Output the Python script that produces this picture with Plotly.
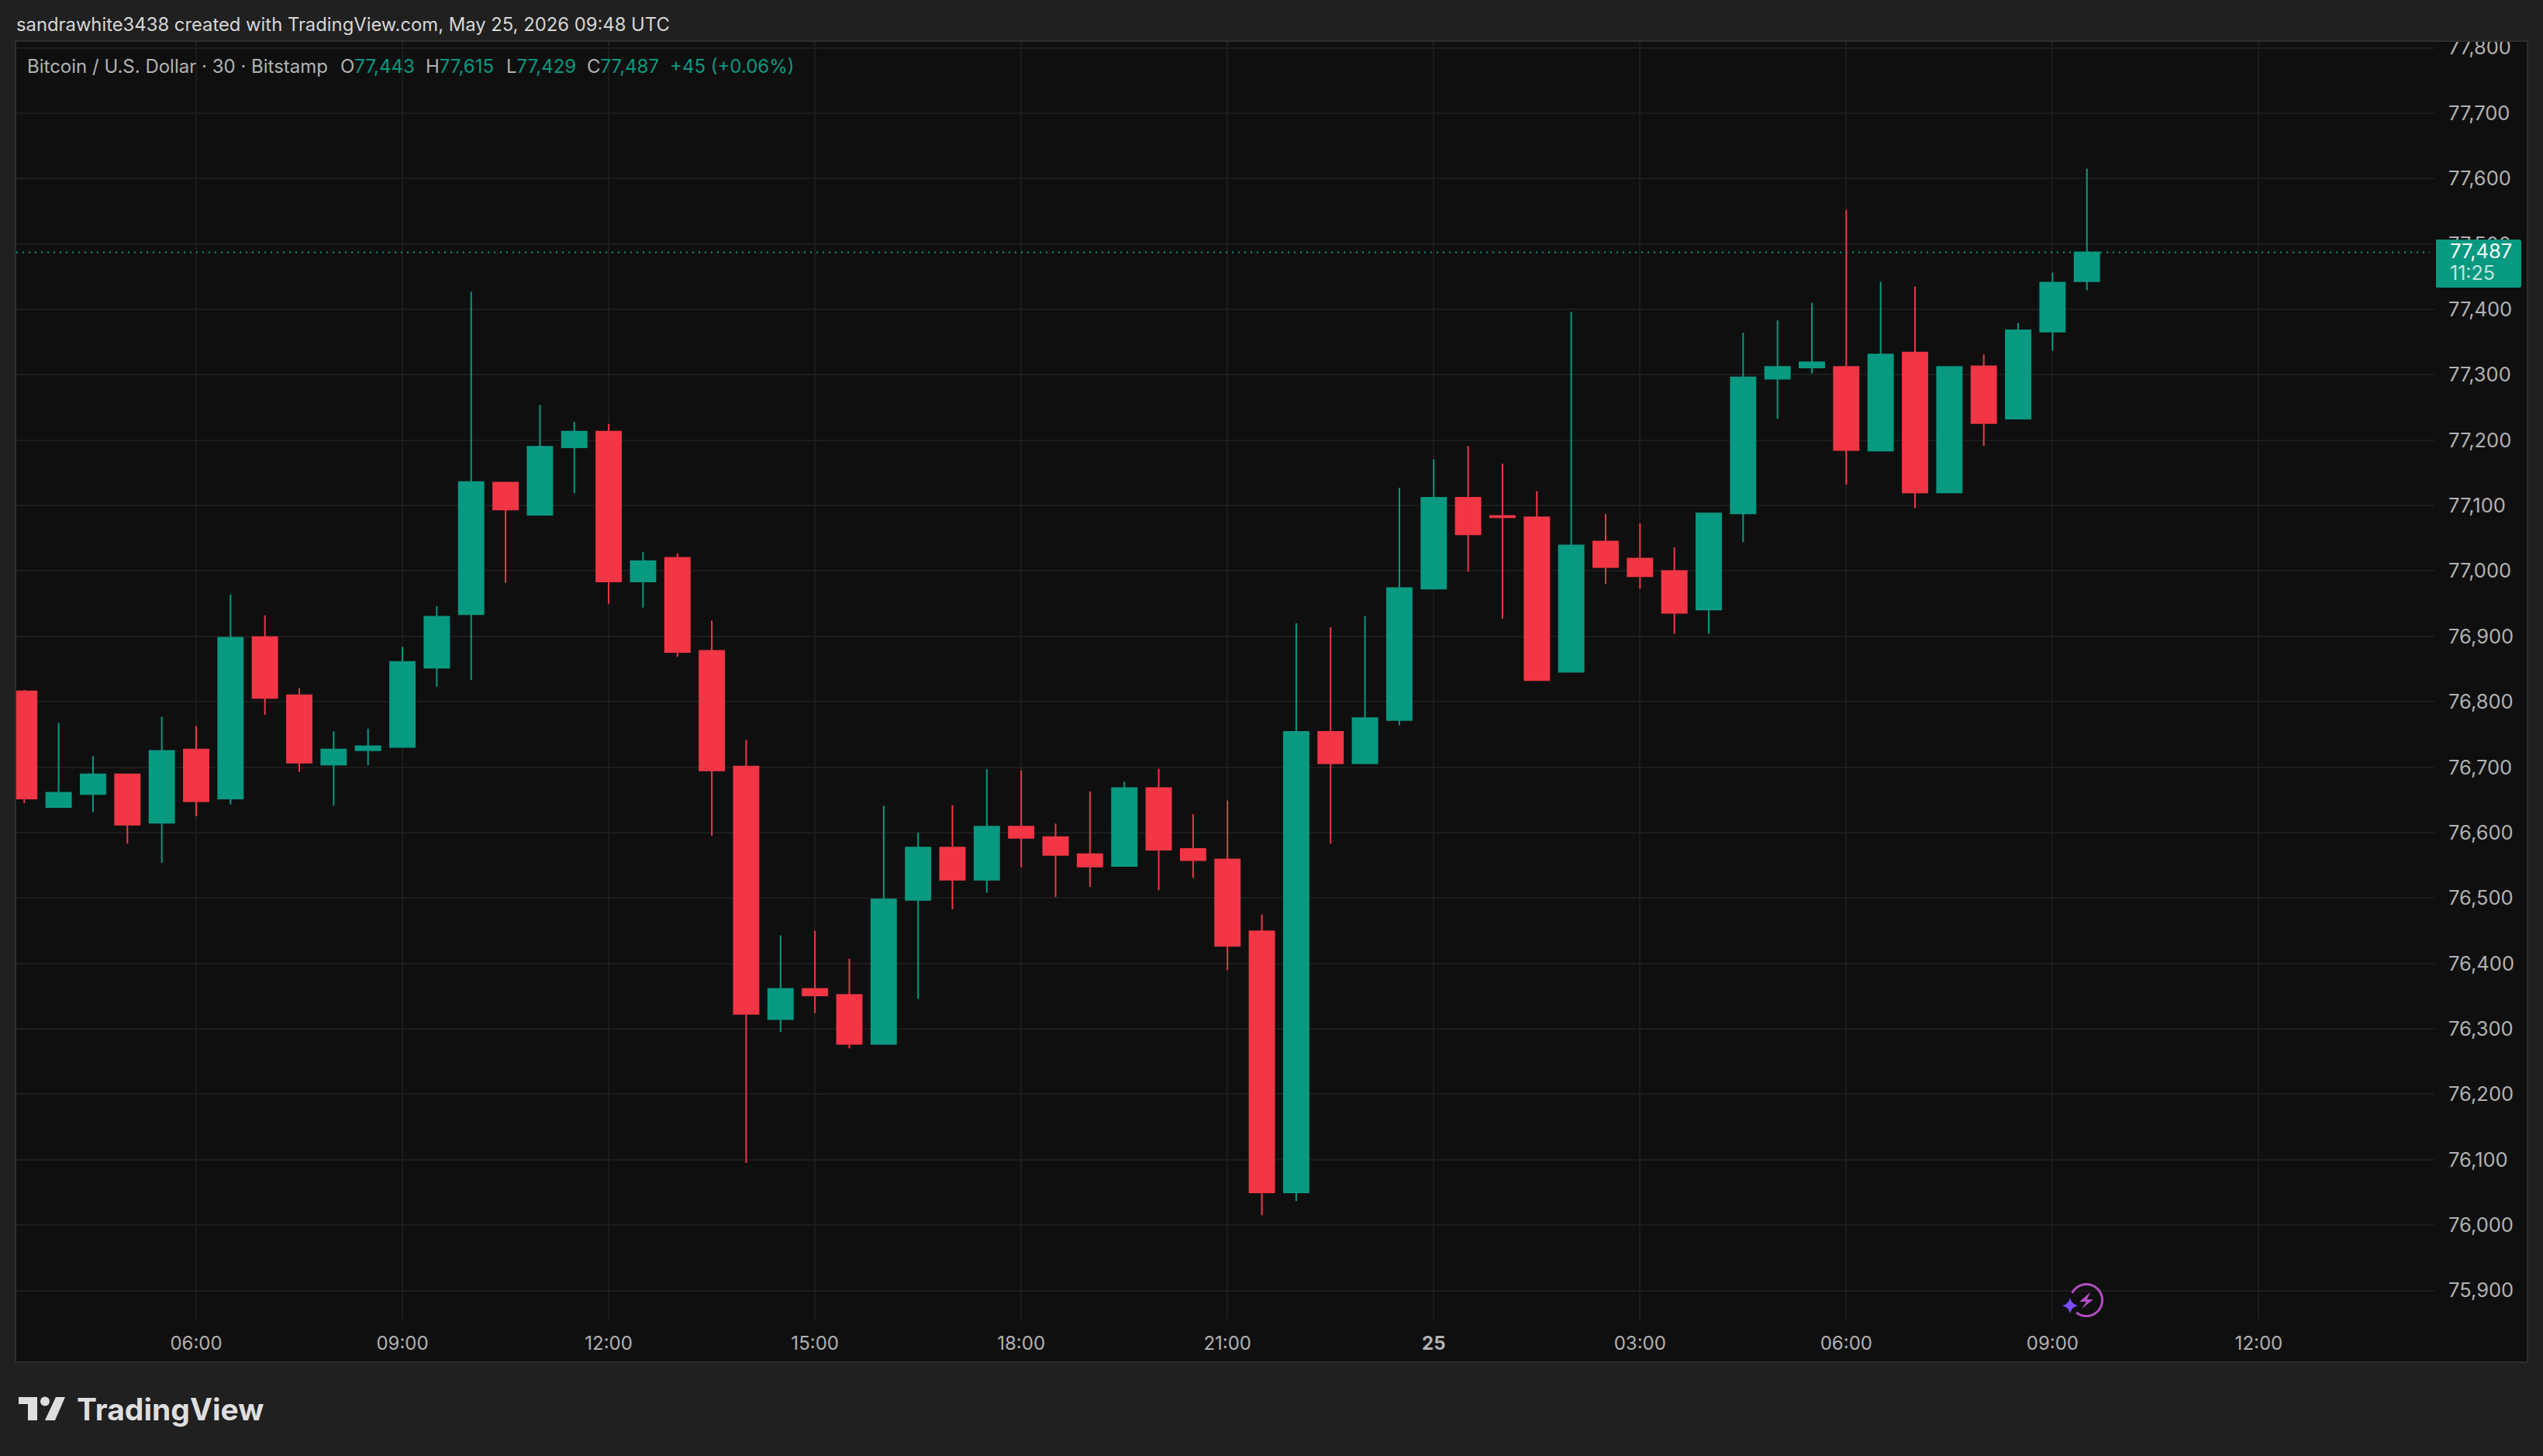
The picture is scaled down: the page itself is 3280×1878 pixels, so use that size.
import math
import pandas as pd
import plotly.graph_objects as go

# ---------- data ----------
bar_start = "2026-05-24 03:30"
opens = [76816, 76639, 76659, 76689, 76615, 76727, 76652, 76899, 76810, 76704, 76726, 76731,
         76852, 76934, 77135, 77086, 77189, 77213, 76984, 77020, 76878, 76701, 76315, 76361,
         76352, 76277, 76497, 76577, 76528, 76609, 76593, 76567, 76549, 76668, 76575, 76559,
         76449, 76050, 76754, 76706, 76772, 76973, 77112, 77084, 77082, 76846, 77045, 77019,
         77000, 76941, 77088, 77294, 77311, 77312, 77184, 77334, 77120, 77313, 77233, 77366, 77443]
highs = [76818, 76768, 76717, 76689, 76777, 76763, 76964, 76932, 76821, 76755, 76759, 76884,
         76946, 77427, 77135, 77254, 77228, 77225, 77029, 77027, 76924, 76742, 76443, 76450,
         76407, 76641, 76600, 76642, 76697, 76695, 76614, 76663, 76678, 76697, 76628, 76649,
         76475, 76920, 76914, 76931, 77127, 77171, 77191, 77164, 77122, 77396, 77087, 77073,
         77036, 77088, 77364, 77383, 77410, 77552, 77442, 77435, 77312, 77331, 77379, 77456, 77615]
lows = [76645, 76638, 76631, 76583, 76554, 76625, 76643, 76780, 76693, 76641, 76703, 76731,
        76823, 76833, 76982, 77086, 77119, 76950, 76944, 76869, 76595, 76095, 76295, 76324,
        76270, 76277, 76346, 76483, 76508, 76547, 76502, 76517, 76549, 76512, 76531, 76390,
        76015, 76037, 76583, 76706, 76764, 76973, 76999, 76927, 76833, 76846, 76980, 76973,
        76904, 76904, 77044, 77233, 77302, 77132, 77184, 77096, 77120, 77191, 77233, 77337, 77429]
closes = [76652, 76661, 76689, 76612, 76725, 76648, 76898, 76806, 76707, 76727, 76732, 76861,
          76930, 77136, 77094, 77190, 77213, 76984, 77015, 76876, 76695, 76323, 76361, 76351,
          76277, 76498, 76577, 76528, 76609, 76592, 76566, 76548, 76668, 76574, 76558, 76427,
          76050, 76754, 76706, 76775, 76974, 77112, 77056, 77082, 76833, 77039, 77006, 76992,
          76936, 77088, 77296, 77312, 77319, 77185, 77331, 77120, 77312, 77226, 77368, 77441, 77487]

price_ticks = [75900, 76000, 76100, 76200, 76300, 76400, 76500, 76600, 76700, 76800, 76900,
               77000, 77100, 77200, 77300, 77400, 77500, 77600, 77700, 77800]
time_ticks = ["2026-05-24 06:00", "2026-05-24 09:00", "2026-05-24 12:00", "2026-05-24 15:00",
              "2026-05-24 18:00", "2026-05-24 21:00", "2026-05-25 00:00", "2026-05-25 03:00",
              "2026-05-25 06:00", "2026-05-25 09:00", "2026-05-25 12:00"]
time_labels = ["06:00", "09:00", "12:00", "15:00", "18:00", "21:00", "<b>25</b>",
               "03:00", "06:00", "09:00", "12:00"]

header_text = "sandrawhite3438 created with TradingView.com, May 25, 2026 09:48 UTC"
symbol_text = "Bitcoin / U.S. Dollar · 30 · Bitstamp"
ohlc_parts = [("O", "77,443"), ("H", "77,615"), ("L", "77,429"), ("C", "77,487")]
change_text = "+45 (+0.06%)"
last_price_label = "77,487"
countdown_label = "11:25"

# ---------- style and layout ----------
W, H = 3280, 1878
L, R, T, B = 21, 3140, 54, 1702
UP, DOWN = "#089981", "#F23645"
PAGE, PANE, GRID, BORDER = "#202020", "#0F0F0F", "#1C1C1C", "#2E2E2E"
FONT = "Inter"


def px(x):
    return (x - L) / (R - L)


def py(y):
    return (B - y) / (B - T)


def poly(points, **kw):
    d = "M" + " L".join(f"{px(x):.5f},{py(y):.5f}" for x, y in points) + " Z"
    return dict(type="path", xref="paper", yref="paper", path=d, layer="above", **kw)


def note(x, y, text, size, color, anchor="left", family=FONT):
    return dict(xref="paper", yref="paper", x=px(x), y=py(y), text=text, showarrow=False,
                xanchor=anchor, yanchor="middle", xshift=0, align="left",
                font=dict(family=family, size=size, color=color))


times = pd.date_range(bar_start, periods=len(opens), freq="30min")

fig = go.Figure(go.Candlestick(
    x=times, open=opens, high=highs, low=lows, close=closes,
    increasing=dict(line=dict(color=UP, width=2), fillcolor=UP),
    decreasing=dict(line=dict(color=DOWN, width=2), fillcolor=DOWN),
    whiskerwidth=0, hoverinfo="skip", showlegend=False,
))

shapes = [
    # pane frame and page strip that trims the top label
    dict(type="rect", xref="paper", yref="paper", x0=px(0), x1=px(W), y0=py(0), y1=py(53),
         fillcolor=PAGE, line_width=0, layer="above"),
    dict(type="rect", xref="paper", yref="paper", x0=px(20), x1=px(3260), y0=py(53), y1=py(1757),
         fillcolor="rgba(0,0,0,0)", line=dict(color=BORDER, width=2), layer="above"),
    # last price line and tag
    dict(type="line", xref="paper", yref="y", x0=px(21), x1=px(3134), y0=closes[-1], y1=closes[-1],
         line=dict(color=UP, width=2, dash="2px,6px"), layer="above"),
    dict(type="path", xref="paper", yref="paper", fillcolor=UP, line_width=0, layer="above",
         path=(f"M{px(3142)},{py(309)} L{px(3249)},{py(309)} Q{px(3252)},{py(309)} {px(3252)},{py(312)} "
               f"L{px(3252)},{py(368)} Q{px(3252)},{py(371)} {px(3249)},{py(371)} L{px(3142)},{py(371)} Z")),
]

# TradingView mark
logo_color = "#DEDEDE"
shapes.append(poly([(24, 1802), (48, 1802), (48, 1832), (36, 1832), (36, 1811), (24, 1811)],
                   fillcolor=logo_color, line_width=0))
shapes.append(dict(type="circle", xref="paper", yref="paper", layer="above", fillcolor=logo_color, line_width=0,
                   x0=px(52), x1=px(64), y0=py(1801.5), y1=py(1813.5)))
shapes.append(poly([(72, 1802), (84, 1802), (71, 1832), (58, 1832)], fillcolor=logo_color, line_width=0))

# purple flash badge
ring = [(2691 + 20.5 * math.cos(math.radians(a)), 1677 + 20.5 * math.sin(math.radians(a)))
        for a in range(-153, 134, 6)]
shapes.append(dict(type="path", xref="paper", yref="paper", layer="above",
                   path="M" + " L".join(f"{px(x):.5f},{py(y):.5f}" for x, y in ring),
                   line=dict(color="#B44CC4", width=3), fillcolor="rgba(0,0,0,0)"))
shapes.append(poly([(2696, 1667), (2682, 1679), (2691, 1679), (2685, 1688), (2700, 1676), (2692, 1676)],
                   fillcolor="#B44CC4", line_width=0))
cx, cy, r = 2670, 1684, 10
shapes.append(dict(type="path", xref="paper", yref="paper", layer="above", fillcolor="#7A4DFF", line_width=0,
                   path=(f"M{px(cx)},{py(cy - r)} Q{px(cx + 2)},{py(cy - 2)} {px(cx + r)},{py(cy)} "
                         f"Q{px(cx + 2)},{py(cy + 2)} {px(cx)},{py(cy + r)} "
                         f"Q{px(cx - 2)},{py(cy + 2)} {px(cx - r)},{py(cy)} "
                         f"Q{px(cx - 2)},{py(cy - 2)} {px(cx)},{py(cy - r)} Z")))

annotations = [
    note(19, 32, header_text, 23.8, "#D6D6D6"),
    note(33, 86, symbol_text, 24, "#B2B2B2"),
    note(3158, 323, last_price_label, 25.5, "#FFFFFF"),
    note(3158, 352, countdown_label, 25, "#C4E6DF"),
    note(97, 1817, "<b>TradingView</b>", 39, logo_color),
]
for (letter, value), x in zip(ohlc_parts, [437, 546.5, 651, 755]):
    annotations.append(note(x, 86, f"{letter}<span style='color:{UP}'>{value}</span>", 24, "#B2B2B2"))
annotations.append(note(861.5, 86, change_text, 24, UP))

fig.update_layout(
    width=W, height=H, autosize=False,
    margin=dict(l=L, r=W - R, t=T, b=H - B, pad=0),
    paper_bgcolor=PAGE, plot_bgcolor=PANE,
    boxgap=0.28, boxgroupgap=0, boxmode="overlay",
    hovermode=False, dragmode=False, showlegend=False,
    shapes=[dict(type="rect", xref="paper", yref="paper", x0=px(21), x1=px(3260), y0=py(54), y1=py(1757),
                 fillcolor=PANE, line_width=0, layer="below")] + shapes,
    annotations=annotations,
    xaxis=dict(type="date", range=["2026-05-24 03:23:02", "2026-05-25 14:33:18"],
               rangeslider=dict(visible=False),
               tickmode="array", tickvals=time_ticks, ticktext=time_labels,
               showgrid=True, gridcolor=GRID, gridwidth=2, zeroline=False, showline=False,
               ticks="", ticklabelstandoff=14,
               tickfont=dict(family=FONT, size=24, color="#B2B2B2")),
    yaxis=dict(side="right", range=[75855.6, 77808.9],
               tickmode="array", tickvals=price_ticks,
               ticktext=[f"{v:,}" for v in price_ticks],
               showgrid=True, gridcolor=GRID, gridwidth=2, zeroline=False, showline=False,
               ticks="", ticklabelstandoff=17,
               tickfont=dict(family=FONT, size=25.5, color="#B2B2B2")),
)

fig.write_html("out.html", config=dict(displayModeBar=False),
               post_script="document.body.style.margin='0';document.body.style.background='#202020';document.documentElement.style.overflow='hidden';")
